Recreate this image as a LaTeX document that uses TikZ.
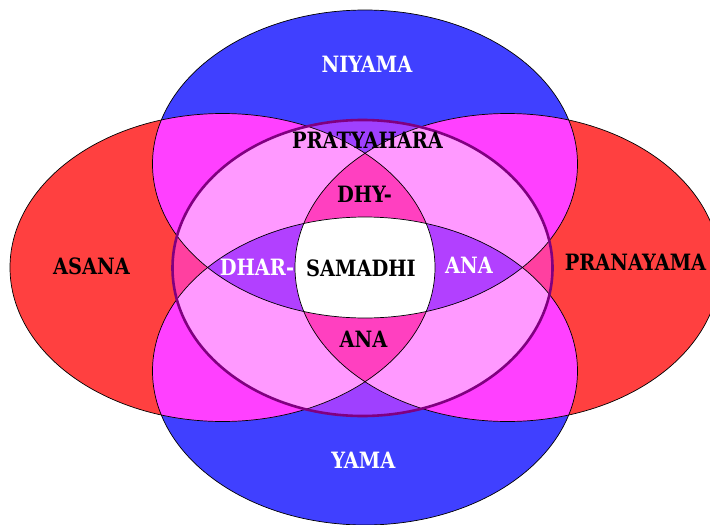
\documentclass[tikz,border=0pt]{standalone}
\usepackage{fontspec}
\newfontfamily\petalfont[FakeStretch=0.86]{DejaVu Serif}
\definecolor{petalblue}{HTML}{4040FF}
\definecolor{petalred}{HTML}{FF4040}
\definecolor{petalmagenta}{HTML}{FF40FF}
\definecolor{ringviolet}{HTML}{9F40FF}
\definecolor{ringhotpink}{HTML}{FF40A0}
\definecolor{ringpink}{HTML}{FF99FF}
\definecolor{dhyanapink}{HTML}{FF40C0}
\definecolor{dharanapurple}{HTML}{B240FF}
\definecolor{ringpurple}{HTML}{800080}
\newcommand{\petalrx}{212.5pt}
\newcommand{\petalry}{154pt}
\begin{document}
\begin{tikzpicture}[x=1pt,y=-1pt,
    outline/.style={draw=black,line width=0.7pt},
    ring/.style={draw=ringpurple,line width=2.6pt},
    lab/.style={font=\petalfont\bfseries\fontsize{22.5}{24}\selectfont,inner sep=0pt}]
    % 710 x 525 px, y runs downward, all centred on (365,267.5)
    \useasboundingbox (0,0) rectangle (710,525);
    \clip (0,0) rectangle (710,525);
    \coordinate (N) at (365,164);     % niyama
    \coordinate (Y) at (365,371);     % yama
    \coordinate (A) at (222.5,267.5); % asana
    \coordinate (P) at (507.5,267.5); % pranayama
    \coordinate (O) at (362.5,268);   % pratyahara ring
    \fill[petalblue] (N) ellipse [x radius=\petalrx, y radius=\petalry]
                     (Y) ellipse [x radius=\petalrx, y radius=\petalry];
    \fill[petalred] (A) ellipse [x radius=\petalrx, y radius=\petalry]
                    (P) ellipse [x radius=\petalrx, y radius=\petalry];
    % blue over red
    \foreach \b in {N,Y}{
        \begin{scope}
            \clip (\b) ellipse [x radius=\petalrx, y radius=\petalry];
            \fill[petalmagenta] (A) ellipse [x radius=\petalrx, y radius=\petalry]
                                (P) ellipse [x radius=\petalrx, y radius=\petalry];
        \end{scope}
    }
    % inside the ring
    \begin{scope}
        \clip (O) ellipse [x radius=190pt, y radius=148pt];
        \fill[ringviolet] (N) ellipse [x radius=\petalrx, y radius=\petalry]
                          (Y) ellipse [x radius=\petalrx, y radius=\petalry];
        \fill[ringhotpink] (A) ellipse [x radius=\petalrx, y radius=\petalry]
                           (P) ellipse [x radius=\petalrx, y radius=\petalry];
        \foreach \b in {N,Y}{
            \begin{scope}
                \clip (\b) ellipse [x radius=\petalrx, y radius=\petalry];
                \fill[ringpink] (A) ellipse [x radius=\petalrx, y radius=\petalry]
                                (P) ellipse [x radius=\petalrx, y radius=\petalry];
            \end{scope}
        }
        \begin{scope}
            \clip (A) ellipse [x radius=\petalrx, y radius=\petalry];
            \fill[dhyanapink] (P) ellipse [x radius=\petalrx, y radius=\petalry];
        \end{scope}
        \begin{scope}
            \clip (N) ellipse [x radius=\petalrx, y radius=\petalry];
            \fill[dharanapurple] (Y) ellipse [x radius=\petalrx, y radius=\petalry];
        \end{scope}
        \begin{scope} % samadhi
            \clip (N) ellipse [x radius=\petalrx, y radius=\petalry];
            \clip (Y) ellipse [x radius=\petalrx, y radius=\petalry];
            \clip (A) ellipse [x radius=\petalrx, y radius=\petalry];
            \fill[white] (P) ellipse [x radius=\petalrx, y radius=\petalry];
        \end{scope}
    \end{scope}
    \foreach \c in {N,Y,A,P}
        \draw[outline] (\c) ellipse [x radius=\petalrx, y radius=\petalry];
    \draw[ring] (O) ellipse [x radius=190pt, y radius=148pt];
    % labels
    \node[lab,text=white] (niyama) at (367,64.3) {NIYAMA};
    \node[lab,text=white] (yama) at (363.3,460.7) {YAMA};
    \node[lab] (asana) at (91.5,266.7) {ASANA};
    \node[lab] (pranayama) at (635.5,262.5) {PRANAYAMA};
    \node[lab] (pratyahara) at (367.5,140.5) {PRATYAHARA};
    \node[lab] (dhy) at (364.5,194.5) {DHY-};
    \node[lab] (samadhi) at (361,268.5) {SAMADHI};
    \node[lab,text=white] (dhar) at (257,267) {DHAR-};
    \node[lab,text=white] (anaright) at (469,265) {ANA};
    \node[lab] (anabottom) at (363.5,339.5) {ANA};
\end{tikzpicture}
\end{document}
